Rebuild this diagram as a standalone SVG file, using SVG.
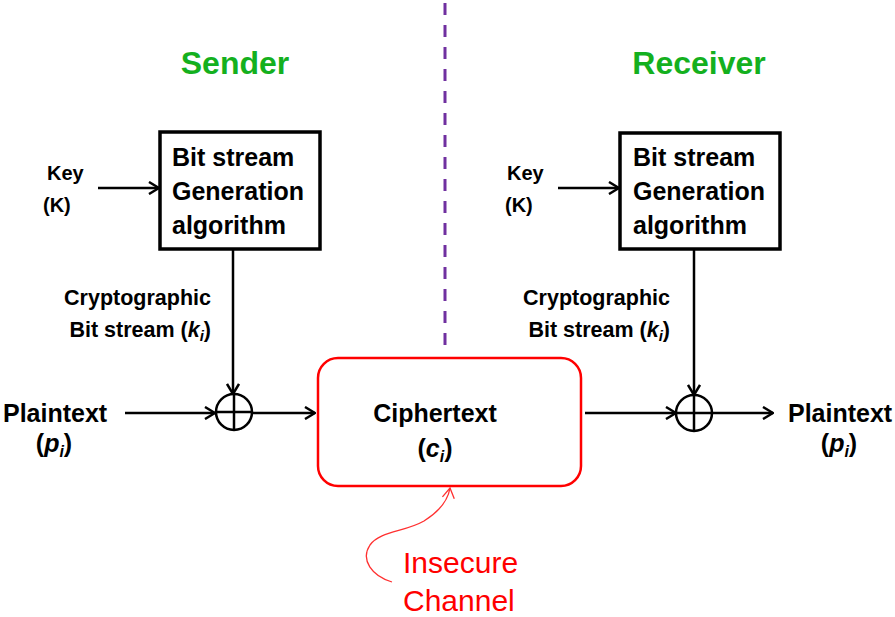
<svg xmlns="http://www.w3.org/2000/svg" width="895" height="617" viewBox="0 0 895 617">
<style>
text{font-family:"Liberation Sans",Arial,sans-serif;font-weight:bold;fill:#000}
.title{font-size:32px;fill:#14B01E;text-anchor:middle}
.box{fill:#fff;stroke:#000;stroke-width:3.5}
.btxt{font-size:25px}
.key{font-size:20px}
.lbl{font-size:21.5px;text-anchor:end}
.big{font-size:25px}
.red{font-size:30px;font-weight:normal;fill:#FF0000}
.ln{stroke:#000;stroke-width:2.5;fill:none}
.arr{marker-end:url(#ah)}
.xor{fill:#fff;stroke:#000;stroke-width:2.5}
.it{font-style:italic}
</style>
<defs>
<marker id="ah" markerUnits="userSpaceOnUse" viewBox="0 0 12 14" refX="11" refY="7" markerWidth="12" markerHeight="14" orient="auto">
<path d="M1,1 L11,7 L1,13" fill="none" stroke="#000" stroke-width="2.5"/>
</marker>
<marker id="rah" markerUnits="userSpaceOnUse" viewBox="0 0 12 14" refX="11" refY="7" markerWidth="12" markerHeight="14" orient="auto">
<path d="M1,1 L11,7 L1,13" fill="none" stroke="#FF3030" stroke-width="1.3"/>
</marker>
</defs>

<line id="divider" x1="445" y1="3" x2="445" y2="348" stroke="#7030A0" stroke-width="3" stroke-dasharray="12 10"/>

<text class="title" x="235" y="74">Sender</text>
<text class="title" x="699" y="74">Receiver</text>

<g id="connectors">
<line class="ln arr" x1="98" y1="188" x2="159" y2="188"/>
<line class="ln arr" x1="233" y1="249" x2="233" y2="394"/>
<line class="ln arr" x1="125" y1="413" x2="215" y2="413"/>
<line class="ln arr" x1="252" y1="413" x2="315" y2="413"/>
<line class="ln arr" x1="558" y1="188" x2="619" y2="188"/>
<line class="ln arr" x1="694" y1="250" x2="694" y2="395"/>
<line class="ln arr" x1="585" y1="413" x2="676" y2="413"/>
<line class="ln arr" x1="712" y1="413" x2="773" y2="413"/>
<path d="M392,582 C372,576 360,560 370,545 C380,531 405,532 424,521 C440,511 448,500 450,488" fill="none" stroke="#FF3030" stroke-width="1.3" marker-end="url(#rah)"/>
</g>

<g id="sender-key">
<text class="key" x="47" y="180">Key</text>
<text class="key" x="43" y="212">(K)</text>
</g>
<g id="sender-generator">
<rect class="box" x="160" y="132" width="160" height="117"/>
<text class="btxt" x="172" y="166">Bit stream</text>
<text class="btxt" x="172" y="200">Generation</text>
<text class="btxt" x="172" y="234">algorithm</text>
</g>
<g id="sender-bitstream-label">
<text class="lbl" x="211" y="305">Cryptographic</text>
<text class="lbl" x="211" y="337">Bit stream (<tspan class="it">k</tspan><tspan class="it" font-size="15" dy="4">i</tspan><tspan dy="-4">)</tspan></text>
</g>
<g id="sender-xor">
<circle class="xor" cx="234" cy="412" r="18"/>
<line class="ln" x1="216" y1="412" x2="252" y2="412"/>
<line class="ln" x1="234" y1="394" x2="234" y2="430"/>
</g>
<g id="sender-plaintext">
<text class="big" x="3" y="422">Plaintext</text>
<text class="big" x="54" y="452" text-anchor="middle">(<tspan class="it">p</tspan><tspan class="it" font-size="16" dy="5">i</tspan><tspan dy="-5">)</tspan></text>
</g>

<g id="ciphertext">
<rect x="318" y="358" width="263" height="128" rx="20" fill="#fff" stroke="#FF0000" stroke-width="2.5"/>
<text class="big" x="435" y="422" text-anchor="middle">Ciphertext</text>
<text class="big" x="435" y="457" text-anchor="middle">(<tspan class="it">c</tspan><tspan class="it" font-size="16" dy="5">i</tspan><tspan dy="-5">)</tspan></text>
</g>

<g id="insecure-channel">
<text class="red" x="403" y="573">Insecure</text>
<text class="red" x="403" y="611">Channel</text>
</g>

<g id="receiver-key">
<text class="key" x="507" y="180">Key</text>
<text class="key" x="505" y="212">(K)</text>
</g>
<g id="receiver-generator">
<rect class="box" x="620" y="133" width="160" height="116"/>
<text class="btxt" x="633" y="166">Bit stream</text>
<text class="btxt" x="633" y="200">Generation</text>
<text class="btxt" x="633" y="234">algorithm</text>
</g>
<g id="receiver-bitstream-label">
<text class="lbl" x="670" y="305">Cryptographic</text>
<text class="lbl" x="670" y="337">Bit stream (<tspan class="it">k</tspan><tspan class="it" font-size="15" dy="4">i</tspan><tspan dy="-4">)</tspan></text>
</g>
<g id="receiver-xor">
<circle class="xor" cx="694" cy="413" r="18"/>
<line class="ln" x1="676" y1="413" x2="712" y2="413"/>
<line class="ln" x1="694" y1="395" x2="694" y2="431"/>
</g>
<g id="receiver-plaintext">
<text class="big" x="788" y="422">Plaintext</text>
<text class="big" x="839" y="452" text-anchor="middle">(<tspan class="it">p</tspan><tspan class="it" font-size="16" dy="5">i</tspan><tspan dy="-5">)</tspan></text>
</g>
</svg>
